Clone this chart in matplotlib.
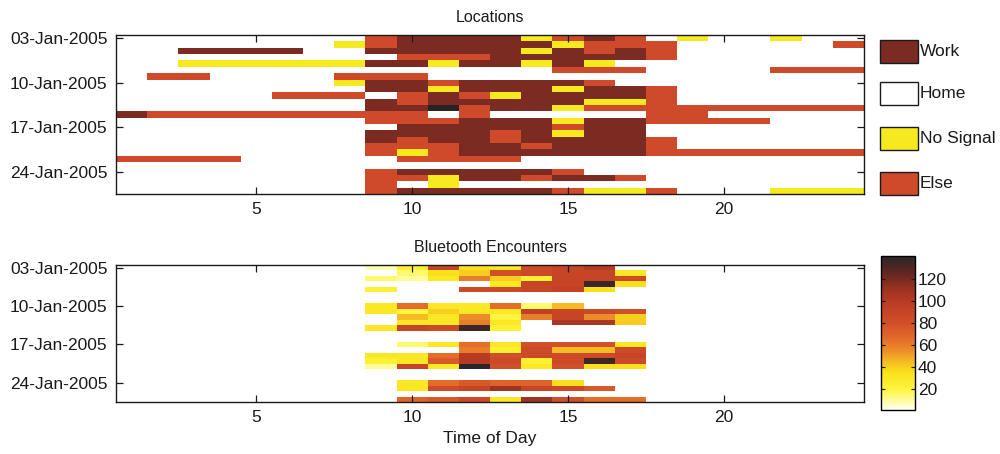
import datetime
import numpy as np
import matplotlib
matplotlib.use("Agg")
import matplotlib.pyplot as plt
from matplotlib.colors import ListedColormap, LinearSegmentedColormap, BoundaryNorm
from matplotlib.patches import Rectangle

plt.rcParams["font.family"] = ["Liberation Sans", "DejaVu Sans"]

# ---- data -------------------------------------------------------------
hours = np.arange(1, 25)                      # hour of day, columns
start_date = datetime.date(2005, 1, 3)
n_days = 25                                   # one row per day
tick_days = [0, 7, 14, 21]                    # offsets of labelled days

# location per hour: '.' Home, 'W' Work, 'N' No Signal, 'E' Else, 'X' unknown
location_rows = [
    "........EWWWWNEWE.N..N..",
    ".......NEWWWWWNEEE.....E",
    "..WWWW..WWWWWNWEWE......",
    ".........EEEWWWWWE......",
    "..NNNNNNWWNWWNWN........",
    "..............EEE....EEE",
    ".EE....EEE..............",
    ".......NWWEWWWWE........",
    "........WWNWWWNWWE......",
    ".....EEE.EWENWWWWE......",
    "........WEWWWWWNNE......",
    "........WWXEWWNEEEEEEEEE",
    "WEEEEEEEEE.E.....EE.....",
    "........EEEWWWNWWEEEE...",
    ".........WWWWWEWW.......",
    "........WWWWEWNWW.......",
    "........WEWWEWWWWE......",
    "........EEEWWEWWWE......",
    "........ENEWWWWWWEEEEEEE",
    "EEEE.....EEEE...........",
    "........................",
    "........EWWWWWE.........",
    "........EENWWEWWE.......",
    "........E.N.............",
    "........EWWWWWENNE...NNN",
]
location_codes = {".": 0, "W": 1, "N": 2, "E": 3, "X": 4}
location_names = ["Work", "Home", "No Signal", "Else"]

# bluetooth encounters per hour, hours 9..17 (other hours have none)
bt_hours = np.arange(9, 18)
bluetooth_rows = [
    [8, 25, 90, 35, 30, 85, 90, 100, 0],
    [0, 15, 35, 40, 80, 85, 90, 90, 30],
    [15, 10, 30, 60, 40, 25, 90, 90, 85],
    [0, 0, 0, 0, 30, 90, 90, 135, 35],
    [25, 0, 0, 85, 85, 90, 95, 35, 0],
    [0, 0, 0, 0, 0, 0, 0, 0, 0],
    [0, 0, 0, 0, 0, 0, 0, 0, 0],
    [30, 65, 30, 30, 65, 15, 45, 0, 0],
    [30, 20, 40, 30, 30, 95, 90, 85, 80],
    [0, 45, 30, 55, 20, 60, 90, 55, 40],
    [0, 30, 30, 60, 30, 0, 105, 105, 40],
    [30, 90, 85, 135, 25, 0, 0, 0, 0],
    [0, 0, 0, 0, 0, 0, 0, 0, 0],
    [0, 0, 0, 0, 0, 0, 0, 0, 0],
    [0, 15, 30, 65, 30, 80, 80, 80, 30],
    [0, 0, 0, 60, 25, 85, 45, 45, 85],
    [30, 30, 65, 100, 80, 85, 85, 85, 90],
    [25, 30, 75, 100, 85, 25, 85, 135, 85],
    [10, 90, 30, 140, 80, 30, 80, 35, 35],
    [0, 0, 0, 0, 0, 0, 0, 0, 0],
    [0, 0, 0, 0, 0, 0, 0, 0, 0],
    [0, 30, 65, 75, 70, 70, 35, 0, 0],
    [0, 30, 85, 90, 110, 90, 85, 75, 0],
    [0, 0, 0, 0, 0, 0, 0, 0, 0],
    [0, 70, 75, 85, 30, 110, 80, 65, 65],
]
bt_colorbar_ticks = [20, 40, 60, 80, 100, 120]

# ---- arrays for plotting ---------------------------------------------
loc = np.array([[location_codes[c] for c in row] for row in location_rows])
bt = np.zeros((n_days, len(hours)))
bt[:, bt_hours - 1] = np.array(bluetooth_rows)

day_idx = np.arange(n_days)
x_edges = np.append(hours - 0.5, hours[-1] + 0.5)
y_edges = np.append(day_idx - 0.5, day_idx[-1] + 0.5)
tick_labels = [(start_date + datetime.timedelta(days=int(d))).strftime("%d-%b-%Y")
               for d in tick_days]

# ---- colours ---------------------------------------------------------
c_home = "#ffffff"
c_work = "#7b2b22"
c_nosig = "#f6ea1f"
c_else = "#cf4a2b"
c_dark = "#2b2222"
loc_cmap = ListedColormap([c_home, c_work, c_nosig, c_else, c_dark])
loc_norm = BoundaryNorm(np.arange(-0.5, 5.5, 1.0), 5)

bt_cmap = LinearSegmentedColormap.from_list("encounters", [
    (0.000, (1.00, 1.00, 0.96)),
    (0.064, (1.00, 0.99, 0.60)),
    (0.136, (1.00, 0.96, 0.24)),
    (0.243, (0.98, 0.88, 0.10)),
    (0.314, (0.96, 0.73, 0.14)),
    (0.386, (0.93, 0.55, 0.16)),
    (0.457, (0.89, 0.43, 0.16)),
    (0.564, (0.82, 0.31, 0.16)),
    (0.671, (0.76, 0.25, 0.15)),
    (0.779, (0.62, 0.20, 0.13)),
    (0.886, (0.39, 0.15, 0.13)),
    (1.000, (0.16, 0.15, 0.16)),
])
bt_cmap.set_under("white")

# ---- figure ----------------------------------------------------------
W, H = 1000, 454
fig = plt.figure(figsize=(W / 100, H / 100), dpi=100)


def frac(l, t, r, b):
    return [l / W, 1 - b / H, (r - l) / W, (b - t) / H]


ax1 = fig.add_axes(frac(116, 35, 864, 194))
ax2 = fig.add_axes(frac(116, 265, 864, 402))

ax1.pcolormesh(x_edges, y_edges, loc, cmap=loc_cmap, norm=loc_norm)
mesh = ax2.pcolormesh(x_edges, y_edges, bt, cmap=bt_cmap, vmin=1, vmax=141)

for ax, title in ((ax1, "Locations"), (ax2, "Bluetooth Encounters")):
    ax.set_xlim(x_edges[0], x_edges[-1])
    ax.set_ylim(y_edges[-1], y_edges[0])
    ax.set_xticks([5, 10, 15, 20])
    ax.set_yticks(tick_days)
    ax.set_yticklabels(tick_labels)
    ax.tick_params(direction="in", length=5, width=0.9, top=True, right=True,
                   labelsize=12.5, pad=6, colors="#1a1a1a")
    for s in ax.spines.values():
        s.set_linewidth(1.0)
        s.set_color("#1a1a1a")
    ax.set_title(title, fontsize=11.5, pad=9, color="#1a1a1a")

ax2.set_xlabel("Time of Day", fontsize=12.5, labelpad=4, color="#1a1a1a")

# category key for the location map
kax = fig.add_axes([0, 0, 1, 1])
kax.set_xlim(0, W)
kax.set_ylim(H, 0)
kax.axis("off")
key_colors = [c_work, c_home, c_nosig, c_else]
key_tops = [40, 82, 127, 172]
for name, col, top in zip(location_names, key_colors, key_tops):
    kax.add_patch(Rectangle((880, top), 38, 23, facecolor=col,
                            edgecolor="#1a1a1a", linewidth=1.0))
    kax.text(920, top + 12, name, fontsize=12.5, va="center", ha="left",
             color="#1a1a1a")

# colour scale for encounters
cax = fig.add_axes(frac(881, 256, 915, 410))
cb = fig.colorbar(mesh, cax=cax, ticks=bt_colorbar_ticks)
cb.outline.set_linewidth(1.0)
cax.tick_params(direction="in", length=3, left=True, right=True,
                labelsize=12.5, pad=2, colors="#1a1a1a")

fig.savefig("out.png", dpi=100)
